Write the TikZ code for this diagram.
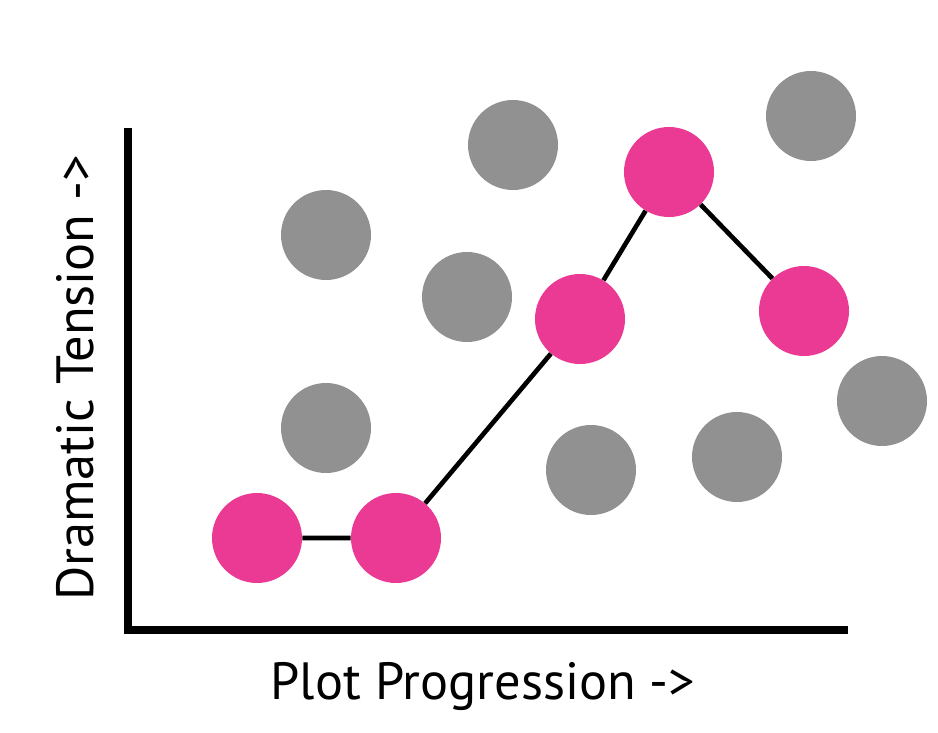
\documentclass[tikz,border=0pt]{standalone}
\usepackage{fontspec}
\setmainfont{PT Sans}
\usetikzlibrary{positioning}
\definecolor{ptpink}{HTML}{EA3A94}
\definecolor{ptgray}{HTML}{919191}
\definecolor{pttext}{HTML}{000000}
\tikzstyle{ptdot}=[circle,minimum size=90*0.75pt,inner sep=0pt]
\tikzstyle{ptplot}=[ptdot,fill=ptpink]
\tikzstyle{ptother}=[ptdot,fill=ptgray]
\tikzstyle{ptlabel}=[text=pttext,font=\fontsize{39.3}{46}\selectfont,inner sep=0pt]

\begin{document}
\begin{tikzpicture}[x=0.75pt,y=-0.75pt]
    \useasboundingbox (0,0) rectangle (938,732);
    % axes
    \coordinate (ytop) at (128,128);
    \coordinate (origin) at (128,630);
    \coordinate (xend) at (848,630);
    \draw[line width=6pt,pttext] (ytop) -- (origin) -- (xend);
    % scenes left out of the plot
    \node[ptother] (g1) at (326,235) {};
    \node[ptother] (g2) at (513,145) {};
    \node[ptother] (g3) at (467,297) {};
    \node[ptother] (g4) at (326,428) {};
    \node[ptother] (g5) at (591,470) {};
    \node[ptother] (g6) at (737,457) {};
    \node[ptother] (g7) at (811,116) {};
    \node[ptother] (g8) at (882,401) {};
    % scenes in the plot
    \node[ptplot] (p1) at (257,538) {};
    \node[ptplot] (p2) at (396,538) {};
    \node[ptplot] (p3) at (580,319) {};
    \node[ptplot] (p4) at (669,172) {};
    \node[ptplot] (p5) at (804,311) {};
    \draw[line width=3.5pt,pttext] (p1) -- (p2) -- (p3) -- (p4) -- (p5);
    % labels
    \node[ptlabel] (xlab) at (483,686) {Plot Progression ->};
    \node[ptlabel,rotate=90] (ylab) at (75,378) {Dramatic Tension ->};
\end{tikzpicture}
\end{document}
